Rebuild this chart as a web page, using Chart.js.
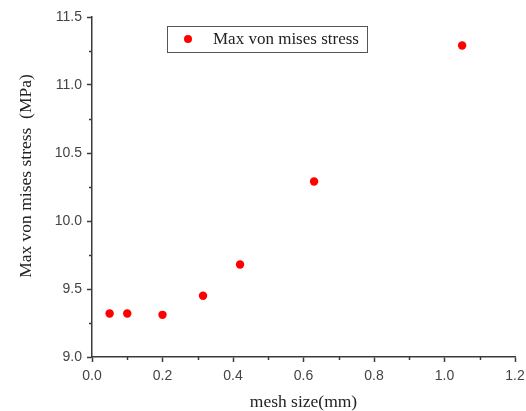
<!DOCTYPE html>
<html>
<head>
<meta charset="utf-8">
<script src="https://cdn.jsdelivr.net/npm/chart.js@4"></script>
<style>
html,body{margin:0;padding:0;background:#fff;}
#wrap{width:526px;height:411px;position:relative;}
</style>
</head>
<body>
<div id="wrap"><canvas id="c" width="526" height="411"></canvas></div>
<script>
const meshSize = [0.05, 0.1, 0.2, 0.315, 0.42, 0.63, 1.05];
const maxStress = [9.32, 9.32, 9.31, 9.45, 9.68, 10.29, 11.29];
const seriesLabel = 'Max von mises stress';
const xTitle = 'mesh size(mm)';
const yTitle = 'Max von mises stress  (MPa)';
const xTicks = [0.0, 0.2, 0.4, 0.6, 0.8, 1.0, 1.2];
const yTicks = [9.0, 9.5, 10.0, 10.5, 11.0, 11.5];

const points = meshSize.map((x, i) => ({x: x, y: maxStress[i]}));
const axisColor = '#3a3a3a';
const serif = '"Liberation Serif", "Times New Roman", serif';
const sans = '"Liberation Sans", Arial, sans-serif';

const extras = {
  id: 'extras',
  afterDraw(chart) {
    const ctx = chart.ctx;
    const xs = chart.scales.x, ys = chart.scales.y;
    ctx.save();
    ctx.strokeStyle = axisColor;
    ctx.lineWidth = 1.5;
    // minor ticks
    for (let i = 0; i < xTicks.length - 1; i++) {
      const v = (xTicks[i] + xTicks[i + 1]) / 2;
      const px = Math.round(xs.getPixelForValue(v)) + 0.5;
      ctx.beginPath();
      ctx.moveTo(px, xs.top);
      ctx.lineTo(px, xs.top + 3);
      ctx.stroke();
    }
    for (let i = 0; i < yTicks.length - 1; i++) {
      const v = (yTicks[i] + yTicks[i + 1]) / 2;
      const py = Math.round(ys.getPixelForValue(v)) + 0.5;
      ctx.beginPath();
      ctx.moveTo(ys.right, py);
      ctx.lineTo(ys.right - 3, py);
      ctx.stroke();
    }
    // y axis title
    ctx.save();
    ctx.translate(26, 176);
    ctx.rotate(-Math.PI / 2);
    ctx.fillStyle = '#222';
    ctx.font = '17.5px ' + serif;
    ctx.textAlign = 'center';
    ctx.textBaseline = 'middle';
    ctx.fillText(yTitle, 0, 0);
    ctx.restore();
    // legend box
    const bx = 167, by = 26, bw = 200, bh = 26;
    ctx.lineWidth = 1;
    ctx.strokeStyle = '#555';
    ctx.strokeRect(bx + 0.5, by + 0.5, bw, bh);
    ctx.fillStyle = '#ff0000';
    ctx.beginPath();
    ctx.arc(bx + 21, by + 13, 4, 0, Math.PI * 2);
    ctx.fill();
    ctx.fillStyle = '#222';
    ctx.font = '17px ' + serif;
    ctx.textBaseline = 'middle';
    ctx.textAlign = 'left';
    ctx.fillText(seriesLabel, bx + 46, by + 14);
    ctx.restore();
  }
};

new Chart(document.getElementById('c'), {
  type: 'scatter',
  data: {
    datasets: [{
      label: seriesLabel,
      data: points,
      backgroundColor: '#ff0000',
      borderColor: '#ff0000',
      pointRadius: 4.2,
      pointHoverRadius: 4.2,
      borderWidth: 0
    }]
  },
  options: {
    responsive: false,
    animation: false,
    events: [],
    layout: {padding: {top: 17, right: 11, left: 0, bottom: 0}},
    plugins: {legend: {display: false}, tooltip: {enabled: false}},
    scales: {
      x: {
        type: 'linear',
        min: xTicks[0], max: xTicks[xTicks.length - 1],
        afterBuildTicks: (s) => { s.ticks = xTicks.map(v => ({value: v})); },
        afterFit: (s) => { s.height = 54; s.paddingRight = 0; s.paddingLeft = 0; },
        border: {color: axisColor, width: 1.5},
        grid: {drawOnChartArea: false, drawTicks: true, tickLength: 5, tickColor: axisColor, tickWidth: 1.5},
        ticks: {color: '#444', font: {family: sans, size: 14}, padding: 6, callback: (v) => Number(v).toFixed(1)},
        title: {display: true, text: xTitle, color: '#222', font: {family: serif, size: 17.5, lineHeight: 1.0}, padding: {top: 0, bottom: 0}}
      },
      y: {
        type: 'linear',
        min: yTicks[0], max: yTicks[yTicks.length - 1],
        afterBuildTicks: (s) => { s.ticks = yTicks.map(v => ({value: v})); },
        afterFit: (s) => { s.width = 92; s.paddingTop = 0; s.paddingBottom = 0; },
        border: {color: axisColor, width: 1.5},
        grid: {drawOnChartArea: false, drawTicks: true, tickLength: 5, tickColor: axisColor, tickWidth: 1.5},
        ticks: {color: '#444', font: {family: sans, size: 14}, padding: 5, callback: (v) => Number(v).toFixed(1)},
        title: {display: false, text: yTitle}
      }
    }
  },
  plugins: [extras]
});
</script>
</body>
</html>
